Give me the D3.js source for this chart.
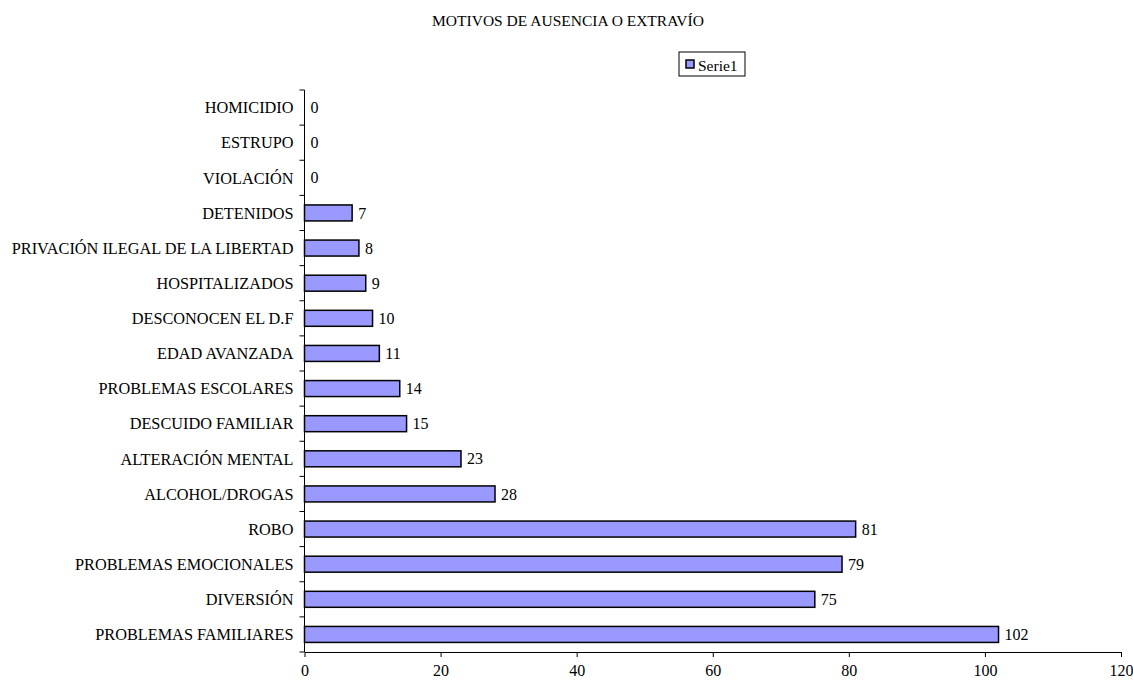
<!DOCTYPE html>
<html>
<head>
<meta charset="utf-8">
<script src="https://cdn.jsdelivr.net/npm/d3@7"></script>
<style>
  body { margin: 0; background: #fff; }
  svg text { font-family: "Liberation Serif", "Times New Roman", serif; fill: #000; }
</style>
</head>
<body>
<div id="chart"></div>
<script>
// categories, top to bottom as drawn
var categories = ["HOMICIDIO", "ESTRUPO", "VIOLACIÓN", "DETENIDOS",
  "PRIVACIÓN ILEGAL DE LA LIBERTAD", "HOSPITALIZADOS", "DESCONOCEN EL D.F",
  "EDAD AVANZADA", "PROBLEMAS ESCOLARES", "DESCUIDO FAMILIAR",
  "ALTERACIÓN MENTAL", "ALCOHOL/DROGAS", "ROBO", "PROBLEMAS EMOCIONALES",
  "DIVERSIÓN", "PROBLEMAS FAMILIARES"];
var values = [0, 0, 0, 7, 8, 9, 10, 11, 14, 15, 23, 28, 81, 79, 75, 102];
var xTicks = [0, 20, 40, 60, 80, 100, 120];
var seriesName = "Serie1";
var title = "MOTIVOS DE AUSENCIA O EXTRAVÍO";

var W = 1133, H = 681;
var margin = {top: 90, right: 12, bottom: 29, left: 304.5},
    width = W - margin.left - margin.right,
    height = H - margin.top - margin.bottom;

var svg = d3.select("#chart")
  .append("svg")
    .attr("width", W)
    .attr("height", H);

svg.append("text")
  .attr("x", 568)
  .attr("y", 26)
  .attr("text-anchor", "middle")
  .style("font-size", "15.5px")
  .text(title);

var g = svg.append("g")
  .attr("transform", "translate(" + margin.left + "," + margin.top + ")");

var x = d3.scaleLinear().domain([0, 120]).range([0, width]);
var y = d3.scaleBand().domain(categories).range([0, height]).paddingInner(0.545).paddingOuter(0.2725);

// bars
g.selectAll("rect.bar")
  .data(values)
  .enter().append("rect")
    .attr("class", "bar")
    .attr("x", 0)
    .attr("y", function(d, i) { return y(categories[i]); })
    .attr("width", function(d) { return x(d); })
    .attr("height", y.bandwidth())
    .attr("fill", "#9999ff")
    .attr("stroke", "#000")
    .attr("stroke-width", 1.5)
    .style("display", function(d) { return d > 0 ? null : "none"; });

// value labels
g.selectAll("text.val")
  .data(values)
  .enter().append("text")
    .attr("class", "val")
    .attr("x", function(d) { return x(d) + 6; })
    .attr("y", function(d, i) { return y(categories[i]) + y.bandwidth() / 2; })
    .attr("dy", "0.35em")
    .style("font-size", "16px")
    .text(function(d) { return d; });

// category labels
g.selectAll("text.cat")
  .data(categories)
  .enter().append("text")
    .attr("class", "cat")
    .attr("x", -11)
    .attr("y", function(d) { return y(d) + y.bandwidth() / 2; })
    .attr("dy", "0.35em")
    .attr("text-anchor", "end")
    .style("font-size", "16.3px")
    .text(function(d) { return d; });

// y axis line with ticks between categories
var step = y.step();
var yTickPos = d3.range(categories.length + 1).map(function(i) { return i * step; });
g.append("line")
  .attr("x1", 0).attr("x2", 0)
  .attr("y1", 0).attr("y2", height)
  .attr("stroke", "#000");
g.selectAll("line.ytick")
  .data(yTickPos)
  .enter().append("line")
    .attr("class", "ytick")
    .attr("x1", -5).attr("x2", 0)
    .attr("y1", function(d) { return d; })
    .attr("y2", function(d) { return d; })
    .attr("stroke", "#000");

// x axis
var xAxis = g.append("g")
  .attr("transform", "translate(0," + height + ")")
  .call(d3.axisBottom(x).tickValues(xTicks).tickSizeInner(5).tickSizeOuter(0).tickPadding(8));
xAxis.attr("font-family", null).attr("font-size", null);
xAxis.select(".domain").attr("stroke", "#000");
xAxis.selectAll("text")
  .style("font-size", "16px");

// legend
var leg = svg.append("g").attr("transform", "translate(679,52)");
leg.append("rect")
  .attr("x", 0).attr("y", 0)
  .attr("width", 66).attr("height", 24)
  .attr("fill", "#fff")
  .attr("stroke", "#000");
leg.append("rect")
  .attr("x", 7).attr("y", 8)
  .attr("width", 8).attr("height", 8)
  .attr("fill", "#9999ff")
  .attr("stroke", "#000")
  .attr("stroke-width", 1.5);
leg.append("text")
  .attr("x", 19)
  .attr("y", 18.5)
  .style("font-size", "15.5px")
  .text(seriesName);
</script>
</body>
</html>
